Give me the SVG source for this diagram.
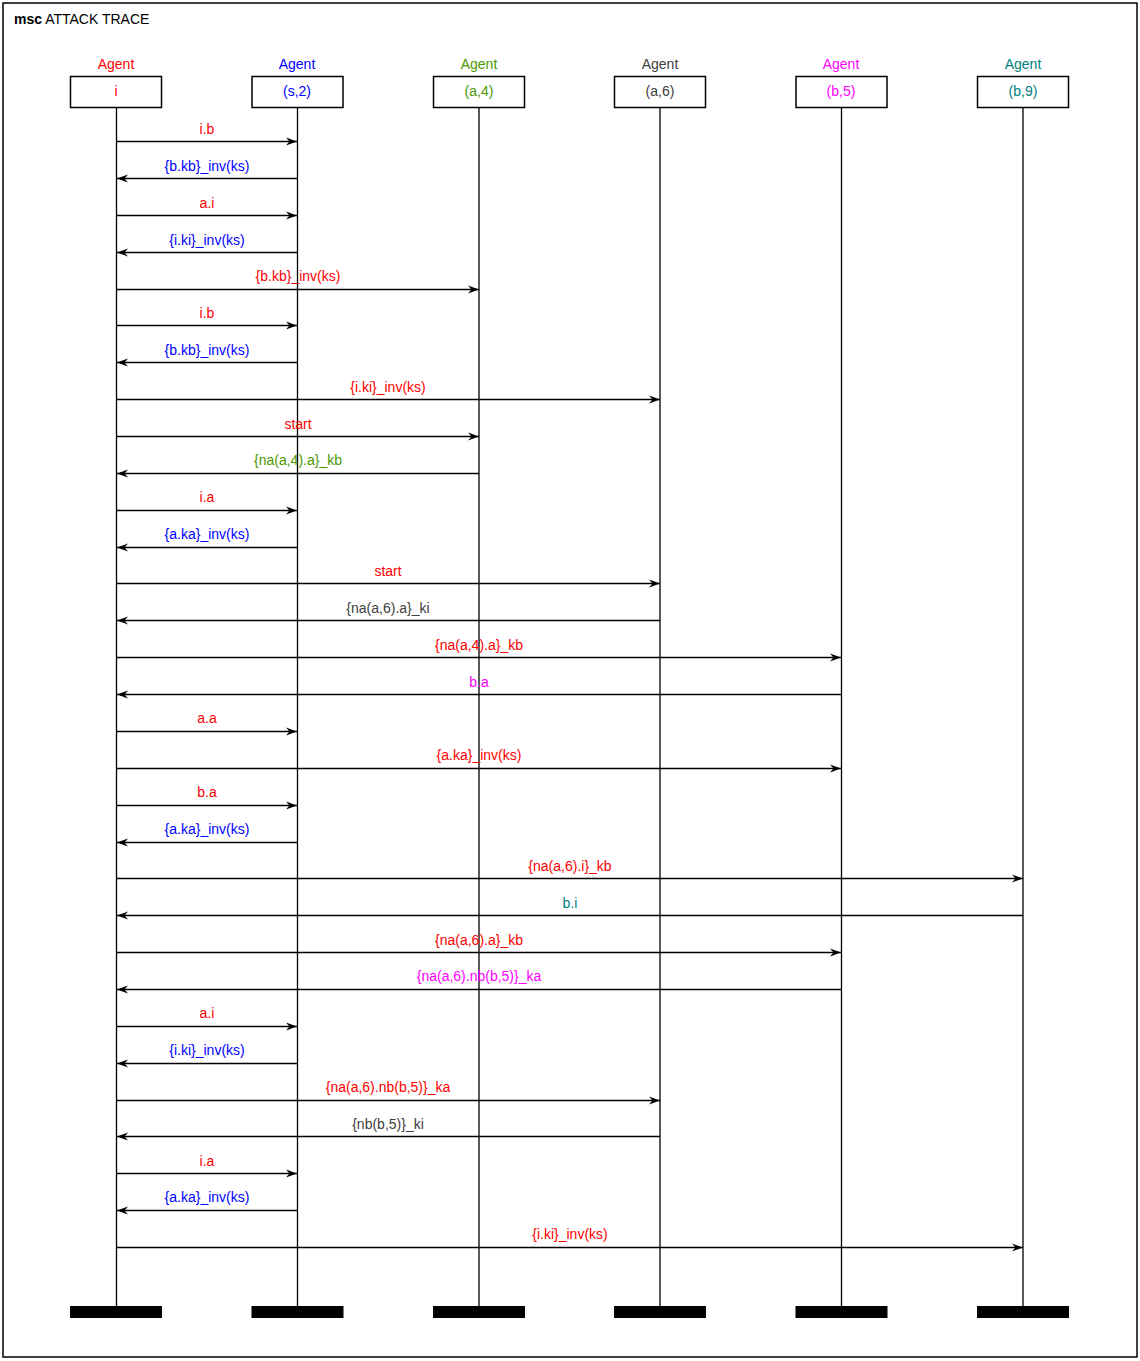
<svg xmlns="http://www.w3.org/2000/svg" width="1140" height="1361" viewBox="0 0 1140 1361">
<style>
text{font-family:"Liberation Sans",Arial,sans-serif;font-size:14px;text-anchor:middle}
.frame{fill:none;stroke:#000;stroke-width:1.5}
.box{fill:#fff;stroke:#000;stroke-width:1.5}
.life{stroke:#000;stroke-width:1.3}
.msg{stroke:#000;stroke-width:1.3;fill:none;marker-end:url(#ah)}
.end{fill:#000}
.r{fill:#ff0000}.b{fill:#0000ff}.g{fill:#4c9900}.k{fill:#404040}.m{fill:#ff00ff}.t{fill:#007f7f}
</style>
<defs>
<marker id="ah" markerWidth="12" markerHeight="10" refX="11" refY="4.5" orient="auto" markerUnits="userSpaceOnUse">
<path d="M0,0.5 L11,4.5 L0,8.5 L3.5,4.5 z" fill="#000"/>
</marker>
</defs>
<rect x="0" y="0" width="1140" height="1361" fill="#fff"/>
<rect class="frame" x="3" y="3" width="1134" height="1354"/>
<text x="14" y="24" style="text-anchor:start"><tspan font-weight="bold">msc</tspan> ATTACK TRACE</text>

<g id="lifelines">
<line class="life" x1="116.5" y1="107" x2="116.5" y2="1306"/>
<line class="life" x1="297.5" y1="107" x2="297.5" y2="1306"/>
<line class="life" x1="479" y1="107" x2="479" y2="1306"/>
<line class="life" x1="660" y1="107" x2="660" y2="1306"/>
<line class="life" x1="841.5" y1="107" x2="841.5" y2="1306"/>
<line class="life" x1="1023" y1="107" x2="1023" y2="1306"/>
</g>

<g id="node-i">
<text class="r" x="116" y="69">Agent</text>
<rect class="box" x="70.5" y="76.5" width="91" height="31"/>
<text class="r" x="116" y="96">i</text>
<rect class="end" x="70" y="1306" width="92" height="12"/>
</g>
<g id="node-s2">
<text class="b" x="297" y="69">Agent</text>
<rect class="box" x="252" y="76.5" width="91" height="31"/>
<text class="b" x="297" y="96">(s,2)</text>
<rect class="end" x="251.5" y="1306" width="92" height="12"/>
</g>
<g id="node-a4">
<text class="g" x="479" y="69">Agent</text>
<rect class="box" x="433.5" y="76.5" width="91" height="31"/>
<text class="g" x="479" y="96">(a,4)</text>
<rect class="end" x="433" y="1306" width="92" height="12"/>
</g>
<g id="node-a6">
<text class="k" x="660" y="69">Agent</text>
<rect class="box" x="614.5" y="76.5" width="91" height="31"/>
<text class="k" x="660" y="96">(a,6)</text>
<rect class="end" x="614" y="1306" width="92" height="12"/>
</g>
<g id="node-b5">
<text class="m" x="841" y="69">Agent</text>
<rect class="box" x="796" y="76.5" width="91" height="31"/>
<text class="m" x="841" y="96">(b,5)</text>
<rect class="end" x="795.5" y="1306" width="92" height="12"/>
</g>
<g id="node-b9">
<text class="t" x="1023" y="69">Agent</text>
<rect class="box" x="977.5" y="76.5" width="91" height="31"/>
<text class="t" x="1023" y="96">(b,9)</text>
<rect class="end" x="977" y="1306" width="92" height="12"/>
</g>

<g id="connectors">
<line class="msg" x1="117" y1="141.5" x2="297" y2="141.5"/><text class="r" x="207" y="134">i.b</text>
<line class="msg" x1="297" y1="178.5" x2="117" y2="178.5"/><text class="b" x="207" y="171">{b.kb}_inv(ks)</text>
<line class="msg" x1="117" y1="215.5" x2="297" y2="215.5"/><text class="r" x="207" y="208">a.i</text>
<line class="msg" x1="297" y1="252.5" x2="117" y2="252.5"/><text class="b" x="207" y="245">{i.ki}_inv(ks)</text>
<line class="msg" x1="117" y1="289.5" x2="479" y2="289.5"/><text class="r" x="298" y="281">{b.kb}_inv(ks)</text>
<line class="msg" x1="117" y1="325.5" x2="297" y2="325.5"/><text class="r" x="207" y="318">i.b</text>
<line class="msg" x1="297" y1="362.5" x2="117" y2="362.5"/><text class="b" x="207" y="355">{b.kb}_inv(ks)</text>
<line class="msg" x1="117" y1="399.5" x2="660" y2="399.5"/><text class="r" x="388" y="392">{i.ki}_inv(ks)</text>
<line class="msg" x1="117" y1="436.5" x2="479" y2="436.5"/><text class="r" x="298" y="429">start</text>
<line class="msg" x1="479" y1="473.5" x2="117" y2="473.5"/><text class="g" x="298" y="465">{na(a,4).a}_kb</text>
<line class="msg" x1="117" y1="510.5" x2="297" y2="510.5"/><text class="r" x="207" y="502">i.a</text>
<line class="msg" x1="297" y1="547.5" x2="117" y2="547.5"/><text class="b" x="207" y="539">{a.ka}_inv(ks)</text>
<line class="msg" x1="117" y1="583.5" x2="660" y2="583.5"/><text class="r" x="388" y="576">start</text>
<line class="msg" x1="660" y1="620.5" x2="117" y2="620.5"/><text class="k" x="388" y="613">{na(a,6).a}_ki</text>
<line class="msg" x1="117" y1="657.5" x2="841" y2="657.5"/><text class="r" x="479" y="650">{na(a,4).a}_kb</text>
<line class="msg" x1="841" y1="694.5" x2="117" y2="694.5"/><text class="m" x="479" y="687">b.a</text>
<line class="msg" x1="117" y1="731.5" x2="297" y2="731.5"/><text class="r" x="207" y="723">a.a</text>
<line class="msg" x1="117" y1="768.5" x2="841" y2="768.5"/><text class="r" x="479" y="760">{a.ka}_inv(ks)</text>
<line class="msg" x1="117" y1="805.5" x2="297" y2="805.5"/><text class="r" x="207" y="797">b.a</text>
<line class="msg" x1="297" y1="842.5" x2="117" y2="842.5"/><text class="b" x="207" y="834">{a.ka}_inv(ks)</text>
<line class="msg" x1="117" y1="878.5" x2="1023" y2="878.5"/><text class="r" x="570" y="871">{na(a,6).i}_kb</text>
<line class="msg" x1="1023" y1="915.5" x2="117" y2="915.5"/><text class="t" x="570" y="908">b.i</text>
<line class="msg" x1="117" y1="952.5" x2="841" y2="952.5"/><text class="r" x="479" y="945">{na(a,6).a}_kb</text>
<line class="msg" x1="841" y1="989.5" x2="117" y2="989.5"/><text class="m" x="479" y="981">{na(a,6).nb(b,5)}_ka</text>
<line class="msg" x1="117" y1="1026.5" x2="297" y2="1026.5"/><text class="r" x="207" y="1018">a.i</text>
<line class="msg" x1="297" y1="1063.5" x2="117" y2="1063.5"/><text class="b" x="207" y="1055">{i.ki}_inv(ks)</text>
<line class="msg" x1="117" y1="1100.5" x2="660" y2="1100.5"/><text class="r" x="388" y="1092">{na(a,6).nb(b,5)}_ka</text>
<line class="msg" x1="660" y1="1136.5" x2="117" y2="1136.5"/><text class="k" x="388" y="1129">{nb(b,5)}_ki</text>
<line class="msg" x1="117" y1="1173.5" x2="297" y2="1173.5"/><text class="r" x="207" y="1166">i.a</text>
<line class="msg" x1="297" y1="1210.5" x2="117" y2="1210.5"/><text class="b" x="207" y="1202">{a.ka}_inv(ks)</text>
<line class="msg" x1="117" y1="1247.5" x2="1023" y2="1247.5"/><text class="r" x="570" y="1239">{i.ki}_inv(ks)</text>
</g>
</svg>
